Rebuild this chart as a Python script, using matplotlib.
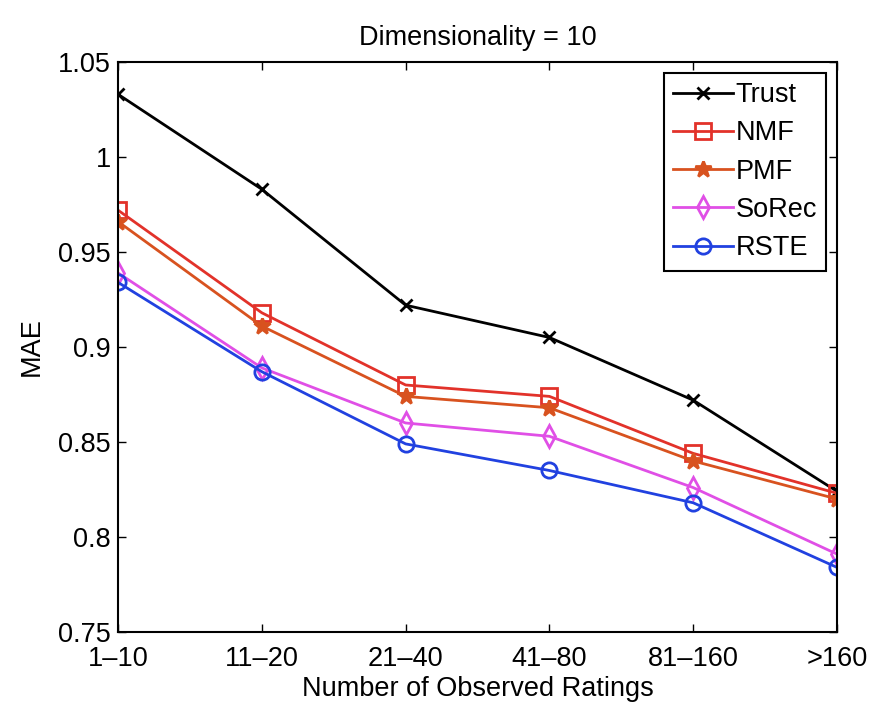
import numpy as np
import matplotlib
matplotlib.use("Agg")
import matplotlib.pyplot as plt

plt.rcParams["font.family"] = ["Liberation Sans", "DejaVu Sans"]

# ==============================
# Data
# ==============================
categories = ["1–10", "11–20", "21–40", "41–80", "81–160", ">160"]

trust = [1.033, 0.983, 0.922, 0.905, 0.872, 0.824]
nmf = [0.972, 0.918, 0.880, 0.874, 0.844, 0.823]
pmf = [0.966, 0.911, 0.874, 0.868, 0.840, 0.820]
sorec = [0.939, 0.889, 0.860, 0.853, 0.826, 0.791]
rste = [0.934, 0.887, 0.849, 0.835, 0.818, 0.784]

series = [
    ("Trust", trust, "black", "x", "black"),
    ("NMF", nmf, "#e2322a", "s", "none"),
    ("PMF", pmf, "#d8521f", "*", "#d8521f"),
    ("SoRec", sorec, "#e04fe6", "d", "none"),
    ("RSTE", rste, "#2141e0", "o", "none"),
]

fig = plt.figure(figsize=(8.71, 7.09), dpi=100)
ax = fig.add_axes([0.1355, 0.1086, 0.961 - 0.1355, 0.9126 - 0.1086])

x = np.arange(len(categories))
for name, vals, col, mk, fc in series:
    ms = {"*": 12, "x": 9}.get(mk, 11)
    ax.plot(x, vals, color=col, marker=mk, markersize=ms, markerfacecolor=fc,
            markeredgecolor=col, markeredgewidth=2.0, linewidth=2.0, label=name)

ax.set_xlim(0, len(categories) - 1)
ax.set_ylim(0.75, 1.05)
ax.set_xticks(x)
ax.set_xticklabels(categories)
ax.set_yticks([0.75, 0.8, 0.85, 0.9, 0.95, 1.0, 1.05])
ax.set_yticklabels(["0.75", "0.8", "0.85", "0.9", "0.95", "1", "1.05"])
ax.tick_params(direction="in", top=True, right=True, length=6, width=1,
               labelsize=19.5)
ax.tick_params(axis="x", pad=10)
ax.tick_params(axis="y", pad=5)
for sp in ax.spines.values():
    sp.set_linewidth(1.5)

ax.set_xlabel("Number of Observed Ratings", fontsize=19.5, labelpad=3)
ax.set_ylabel("MAE", fontsize=19.5, labelpad=10)
ax.set_title("Dimensionality = 10", fontsize=19.5, pad=12)

leg = ax.legend(loc="upper right", fontsize=19.5, fancybox=False,
                edgecolor="black", framealpha=1, handlelength=2.2,
                handletextpad=0.1, labelspacing=0.45, borderpad=0.35,
                borderaxespad=0.4)
leg.get_frame().set_linewidth(1.5)

fig.savefig("out.png", dpi=100)
